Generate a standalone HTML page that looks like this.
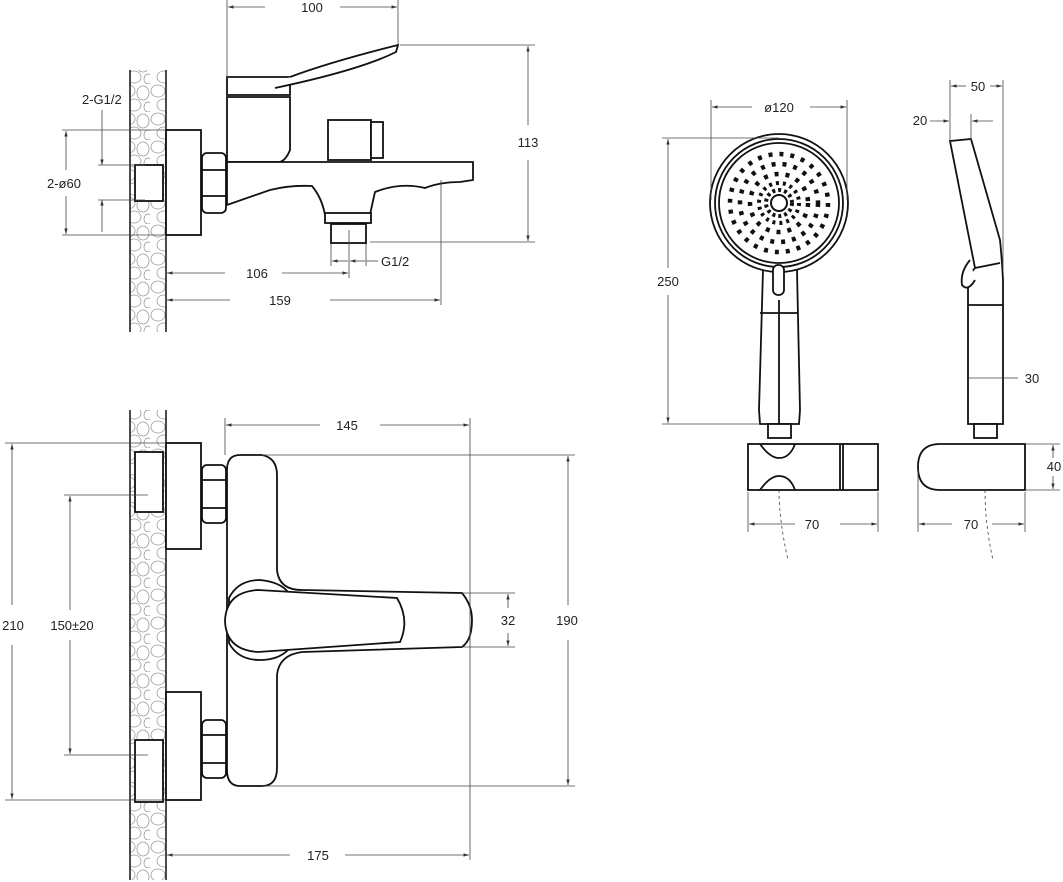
<!DOCTYPE html>
<html><head><meta charset="utf-8"><style>
html,body{margin:0;padding:0;background:#fff;}
svg{display:block}
text{font-family:"Liberation Sans",sans-serif;font-size:13px;fill:#222}
</style></head><body>
<svg width="1063" height="882" viewBox="0 0 1063 882" xmlns="http://www.w3.org/2000/svg">
<defs>
<pattern id="peb" width="30" height="28" patternUnits="userSpaceOnUse">
<ellipse cx="8" cy="7" rx="7" ry="6" fill="none" stroke="#999" stroke-width="0.8"/>
<ellipse cx="23" cy="9" rx="6" ry="7" fill="none" stroke="#999" stroke-width="0.8"/>
<ellipse cx="14" cy="21" rx="7" ry="6" fill="none" stroke="#999" stroke-width="0.8"/>
<ellipse cx="28" cy="23" rx="4" ry="5" fill="none" stroke="#999" stroke-width="0.8"/>
</pattern>
<marker id="a" viewBox="0 0 10 10" refX="10" refY="5" markerWidth="7" markerHeight="7" orient="auto-start-reverse"><path d="M0,2 L10,5 L0,8z" fill="#333"/></marker>
</defs>
<g stroke="#444" stroke-width="0.8" fill="none">
<!-- TOP VIEW -->
<rect x="130" y="70" width="36" height="262" fill="url(#peb)" stroke="none"/>
<line x1="130" y1="70" x2="130" y2="332" stroke="#111" stroke-width="1.5"/>
<line x1="166" y1="70" x2="166" y2="332" stroke="#111" stroke-width="1.5"/>
<g stroke="#111" stroke-width="1.8">
<rect x="166" y="130" width="35" height="105" fill="#fff"/>
<rect x="135" y="165" width="28" height="36" fill="#fff"/>
<rect x="202" y="153" width="24" height="60" rx="5" fill="#fff"/>
<line x1="202" y1="170" x2="226" y2="170"/><line x1="202" y1="196" x2="226" y2="196"/>
<path d="M227,97 L290,97 L290,150 Q286,160 280,162 L227,162 Z" fill="#fff"/>
<path d="M227,77 L290,77 L290,95 L227,95 Z" fill="#fff"/>
<path d="M290,77 Q330,62 398,45 L396,52 Q360,70 275,88" fill="#fff"/>
<rect x="328" y="120" width="43" height="40" fill="#fff"/>
<rect x="371" y="122" width="12" height="36" fill="#fff"/>
<path d="M227,162 L473,162 L473,180 L460,182 Q440,182 425,188 Q400,182 375,192 Q372,205 370,215 L325,215 Q322,198 312,186 Q290,185 270,190 L227,205 Z" fill="#fff"/>
<rect x="325" y="213" width="46" height="10" fill="#fff"/>
<rect x="331" y="224" width="35" height="19" fill="#fff"/>
</g>
<!-- dims top -->
<line x1="227" y1="0" x2="227" y2="78"/><line x1="398" y1="0" x2="398" y2="45"/>
<line x1="228" y1="7" x2="265" y2="7" marker-start="url(#a)"/><line x1="340" y1="7" x2="397" y2="7" marker-end="url(#a)"/>
<line x1="400" y1="45" x2="535" y2="45"/><line x1="370" y1="242" x2="535" y2="242"/>
<line x1="528" y1="46" x2="528" y2="125" marker-start="url(#a)"/><line x1="528" y1="160" x2="528" y2="241" marker-end="url(#a)"/>
<line x1="349" y1="230" x2="349" y2="278"/><line x1="441" y1="180" x2="441" y2="305"/>
<line x1="167" y1="273" x2="225" y2="273" marker-start="url(#a)"/><line x1="282" y1="273" x2="348" y2="273" marker-end="url(#a)"/>
<line x1="167" y1="300" x2="230" y2="300" marker-start="url(#a)"/><line x1="330" y1="300" x2="440" y2="300" marker-end="url(#a)"/>
<line x1="331" y1="244" x2="331" y2="266"/><line x1="366" y1="244" x2="366" y2="266"/>
<line x1="332" y1="261" x2="348" y2="261" marker-start="url(#a)"/><line x1="350" y1="261" x2="365" y2="261" marker-start="url(#a)"/><line x1="366" y1="261" x2="378" y2="261"/>
<line x1="102" y1="110" x2="102" y2="165" marker-end="url(#a)"/><line x1="102" y1="200" x2="102" y2="232" marker-start="url(#a)"/>
<line x1="98" y1="165" x2="145" y2="165"/><line x1="98" y1="200" x2="145" y2="200"/>
<line x1="62" y1="130" x2="166" y2="130"/><line x1="62" y1="235" x2="166" y2="235"/>
<line x1="66" y1="131" x2="66" y2="170" marker-start="url(#a)"/><line x1="66" y1="196" x2="66" y2="234" marker-end="url(#a)"/>

<!-- BOTTOM VIEW -->
<rect x="130" y="410" width="36" height="470" fill="url(#peb)" stroke="none"/>
<line x1="130" y1="410" x2="130" y2="880" stroke="#111" stroke-width="1.5"/>
<line x1="166" y1="410" x2="166" y2="880" stroke="#111" stroke-width="1.5"/>
<g stroke="#111" stroke-width="1.8">
<rect x="166" y="443" width="35" height="106" fill="#fff"/>
<rect x="166" y="692" width="35" height="108" fill="#fff"/>
<rect x="135" y="452" width="28" height="60" fill="#fff"/>
<rect x="135" y="740" width="28" height="62" fill="#fff"/>
<rect x="202" y="465" width="24" height="58" rx="5" fill="#fff"/>
<line x1="202" y1="480" x2="226" y2="480"/><line x1="202" y1="508" x2="226" y2="508"/>
<rect x="202" y="720" width="24" height="58" rx="5" fill="#fff"/>
<line x1="202" y1="735" x2="226" y2="735"/><line x1="202" y1="763" x2="226" y2="763"/>
<path d="M240,455 L262,455 Q277,458 277,475 L277,570 Q279,590 302,590 L462,593 Q472,605 472,620 Q472,640 462,647 L302,652 Q279,655 277,675 L277,768 Q277,786 262,786 L240,786 Q227,786 227,770 L227,470 Q227,455 240,455 Z" fill="#fff"/>
<path d="M229,598 Q238,580 260,580 Q280,582 288,592 L288,650 Q278,660 260,660 Q238,660 229,643 Z" fill="#fff"/>
<path d="M258,590 L397,598 Q410,620 400,642 L258,652 Q226,650 225,621 Q226,592 258,590 Z" fill="#fff"/>
</g>
<line x1="225" y1="418" x2="225" y2="455"/><line x1="470" y1="418" x2="470" y2="860"/>
<line x1="226" y1="425" x2="320" y2="425" marker-start="url(#a)"/><line x1="380" y1="425" x2="469" y2="425" marker-end="url(#a)"/>
<line x1="167" y1="855" x2="290" y2="855" marker-start="url(#a)"/><line x1="345" y1="855" x2="469" y2="855" marker-end="url(#a)"/>
<line x1="5" y1="443" x2="166" y2="443"/><line x1="5" y1="800" x2="166" y2="800"/>
<line x1="12" y1="444" x2="12" y2="605" marker-start="url(#a)"/><line x1="12" y1="645" x2="12" y2="799" marker-end="url(#a)"/>
<line x1="64" y1="495" x2="148" y2="495"/><line x1="64" y1="755" x2="148" y2="755"/>
<line x1="70" y1="496" x2="70" y2="610" marker-start="url(#a)"/><line x1="70" y1="640" x2="70" y2="754" marker-end="url(#a)"/>
<line x1="262" y1="455" x2="575" y2="455"/><line x1="262" y1="786" x2="575" y2="786"/>
<line x1="568" y1="456" x2="568" y2="605" marker-start="url(#a)"/><line x1="568" y1="640" x2="568" y2="785" marker-end="url(#a)"/>
<line x1="462" y1="593" x2="515" y2="593"/><line x1="462" y1="647" x2="515" y2="647"/>
<line x1="508" y1="594" x2="508" y2="608" marker-start="url(#a)"/><line x1="508" y1="633" x2="508" y2="646" marker-end="url(#a)"/>

<!-- SHOWER HEAD FRONT -->
<g stroke="#111" stroke-width="1.8">
<path d="M763,270 L759,410 L760,424 L799,424 L800,410 L797,270" fill="#fff"/>
<line x1="760" y1="313" x2="798" y2="313"/><line x1="779" y1="300" x2="779" y2="424"/>
<circle cx="779" cy="203" r="69" fill="#fff"/>
<circle cx="779" cy="203" r="64"/>
<circle cx="779" cy="203" r="60"/>
<rect x="773" y="265" width="11" height="30" rx="5" fill="#fff"/>
<rect x="768" y="424" width="23" height="14" fill="#fff"/>
<rect x="748" y="444" width="130" height="46" fill="#fff"/>
<line x1="840" y1="444" x2="840" y2="490"/><line x1="843" y1="444" x2="843" y2="490"/>
<path d="M760,444 Q770,458 779,458 Q790,458 795,444" />
<path d="M760,490 Q770,476 779,476 Q790,476 795,490" />
</g>
<g fill="none" stroke="#111">
<circle cx="779" cy="203" r="8" stroke-width="2"/>
<circle cx="779" cy="203" r="13" stroke-width="4" stroke-dasharray="3 3"/>
<circle cx="779" cy="203" r="20" stroke-width="4" stroke-dasharray="3 4"/>
<circle cx="779" cy="203" r="29" stroke-width="4.5" stroke-dasharray="4 7"/>
<circle cx="779" cy="203" r="39" stroke-width="4.5" stroke-dasharray="4 7"/>
<circle cx="779" cy="203" r="49" stroke-width="4.5" stroke-dasharray="4 7"/>
</g>
<line x1="711" y1="100" x2="711" y2="200"/><line x1="847" y1="100" x2="847" y2="200"/>
<line x1="712" y1="107" x2="752" y2="107" marker-start="url(#a)"/><line x1="810" y1="107" x2="846" y2="107" marker-end="url(#a)"/>
<line x1="662" y1="138" x2="779" y2="138"/><line x1="662" y1="424" x2="760" y2="424"/>
<line x1="668" y1="139" x2="668" y2="268" marker-start="url(#a)"/><line x1="668" y1="295" x2="668" y2="423" marker-end="url(#a)"/>
<line x1="748" y1="492" x2="748" y2="532"/><line x1="878" y1="492" x2="878" y2="532"/>
<line x1="749" y1="524" x2="795" y2="524" marker-start="url(#a)"/><line x1="840" y1="524" x2="877" y2="524" marker-end="url(#a)"/>
<path d="M779,490 Q779,520 788,560" stroke-dasharray="3 3"/>

<!-- SIDE VIEW -->
<g stroke="#111" stroke-width="1.8">
<path d="M950,141 L971,139 L1000,240 Q1002,260 1003,280 L1003,424 L968,424 L968,288 Q968,275 975,268 Z" fill="#fff"/>
<line x1="975" y1="268" x2="1000" y2="263"/>
<line x1="968" y1="305" x2="1003" y2="305"/>
<path d="M970,260 Q960,272 962,285 Q968,292 975,280" fill="#fff"/>
<rect x="974" y="424" width="23" height="14" fill="#fff"/>
<path d="M940,444 L1025,444 L1025,490 L940,490 Q918,490 918,467 Q918,444 940,444 Z" fill="#fff"/>
</g>
<line x1="950" y1="80" x2="950" y2="140"/><line x1="1003" y1="80" x2="1003" y2="270"/>
<line x1="951" y1="86" x2="966" y2="86" marker-start="url(#a)"/><line x1="990" y1="86" x2="1002" y2="86" marker-end="url(#a)"/>
<line x1="930" y1="121" x2="949" y2="121" marker-end="url(#a)"/><line x1="993" y1="121" x2="972" y2="121" marker-end="url(#a)"/>
<line x1="971" y1="114" x2="971" y2="140"/>
<line x1="969" y1="378" x2="1002" y2="378"/><line x1="1003" y1="378" x2="1018" y2="378"/>
<line x1="1025" y1="444" x2="1060" y2="444"/><line x1="1025" y1="490" x2="1060" y2="490"/>
<line x1="1053" y1="445" x2="1053" y2="458" marker-start="url(#a)"/><line x1="1053" y1="476" x2="1053" y2="489" marker-end="url(#a)"/>
<line x1="918" y1="470" x2="918" y2="532"/><line x1="1025" y1="492" x2="1025" y2="532"/>
<line x1="919" y1="524" x2="952" y2="524" marker-start="url(#a)"/><line x1="992" y1="524" x2="1024" y2="524" marker-end="url(#a)"/>
<path d="M985,490 Q985,525 993,560" stroke-dasharray="3 3"/>
</g>
<!-- labels -->
<text x="312" y="12" text-anchor="middle">100</text>
<text x="528" y="147" text-anchor="middle">113</text>
<text x="257" y="278" text-anchor="middle">106</text>
<text x="280" y="305" text-anchor="middle">159</text>
<text x="381" y="266">G1/2</text>
<text x="82" y="104">2-G1/2</text>
<text x="47" y="188">2-ø60</text>
<text x="347" y="430" text-anchor="middle">145</text>
<text x="318" y="860" text-anchor="middle">175</text>
<text x="13" y="630" text-anchor="middle">210</text>
<text x="72" y="630" text-anchor="middle">150±20</text>
<text x="508" y="625" text-anchor="middle">32</text>
<text x="567" y="625" text-anchor="middle">190</text>
<text x="779" y="112" text-anchor="middle">ø120</text>
<text x="668" y="286" text-anchor="middle">250</text>
<text x="812" y="529" text-anchor="middle">70</text>
<text x="978" y="91" text-anchor="middle">50</text>
<text x="920" y="125" text-anchor="middle">20</text>
<text x="1032" y="383" text-anchor="middle">30</text>
<text x="1054" y="471" text-anchor="middle">40</text>
<text x="971" y="529" text-anchor="middle">70</text>
</svg>
</body></html>
